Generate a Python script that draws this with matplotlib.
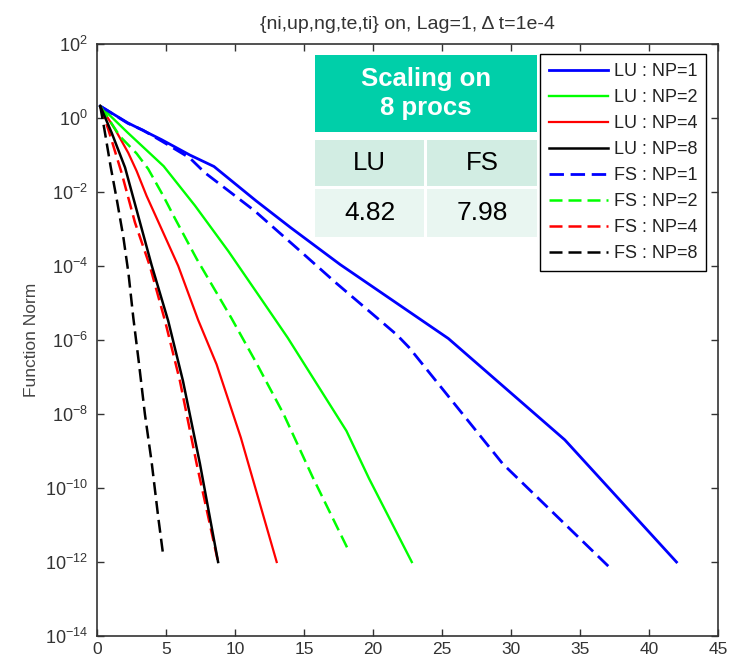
import math
import matplotlib
matplotlib.use("Agg")
import matplotlib.pyplot as plt
from matplotlib.patches import Rectangle
from matplotlib.ticker import FixedLocator, FuncFormatter, NullLocator

plt.rcParams['font.family'] = ['Liberation Sans', 'DejaVu Sans']
plt.rcParams['mathtext.default'] = 'regular'

# Data (x = time / iterations, y = function norm)
lu1_x = [0.2, 2.2, 4.65, 6.7, 8.45, 11.5, 14.0, 17.6, 25.45, 33.9, 42.0]
lu1_y = [2.1, 0.74, 0.26, 0.10, 0.049, 5.8e-3, 1.1e-3, 1.1e-4, 1.1e-6, 2.0e-9, 1.0e-12]

lu2_x = [0.2, 2.2, 4.8, 7.07, 9.5, 12.0, 13.8, 18.06, 19.7, 22.8]
lu2_y = [2.1, 0.40, 0.050, 4.3e-3, 2.5e-4, 1.1e-5, 1.15e-6, 3.5e-9, 1.8e-10, 1.0e-12]

lu4_x = [0.2, 1.27, 2.23, 2.84, 3.56, 4.65, 5.86, 7.3, 8.64, 10.4, 13.0]
lu4_y = [2.1, 0.50, 0.115, 0.037, 7.9e-3, 1.0e-3, 1.0e-4, 3.5e-6, 2.2e-7, 2.3e-9, 1.0e-12]

lu8_x = [0.2, 1.03, 2.0, 3.93, 5.13, 6.2, 7.43, 8.75]
lu8_y = [2.1, 0.40, 0.046, 1.05e-4, 3.3e-6, 7.9e-8, 4.6e-10, 1.0e-12]

fs1_x = [0.2, 2.2, 3.3, 5.0, 6.7, 7.8, 9.7, 11.4, 14.4, 17.3, 21.7, 22.6, 29.4, 37.3]
fs1_y = [2.1, 0.72, 0.47, 0.20, 0.083, 0.033, 9.5e-3, 3.1e-3, 3.2e-4, 3.5e-5, 1.4e-6, 6.3e-7, 4.5e-10, 6.3e-13]

fs2_x = [0.2, 1.63, 2.84, 3.68, 4.77, 5.6, 7.2, 9.7, 11.5, 13.5, 15.6, 18.2]
fs2_y = [2.1, 0.32, 0.11, 0.042, 7.9e-3, 2.0e-3, 1.55e-4, 4.0e-6, 2.5e-7, 1.0e-8, 2.0e-10, 2.1e-12]

fs4_x = [0.2, 0.78, 1.75, 2.72, 3.8, 4.9, 5.98, 7.19, 8.75]
fs4_y = [2.1, 0.50, 0.033, 1.5e-3, 1.0e-4, 3.3e-6, 7.9e-8, 4.6e-10, 1.0e-12]

fs8_x = [0.2, 0.5, 0.95, 1.4, 1.87, 2.25, 2.6, 3.0, 3.44, 3.93, 4.41, 4.77]
fs8_y = [2.1, 0.50, 0.050, 6.3e-3, 6.3e-4, 6.3e-5, 4.0e-6, 2.5e-7, 1.0e-8, 5.0e-10, 1.6e-11, 1.5e-12]

x_ticks = [0, 5, 10, 15, 20, 25, 30, 35, 40, 45]
y_exponents = [2, 0, -2, -4, -6, -8, -10, -12, -14]

title = "{ni,up,ng,te,ti} on, Lag=1, \u0394 t=1e-4"
table_header = "Scaling on\n8 procs"
table_cols = ["LU", "FS"]
table_vals = ["4.82", "7.98"]

fig = plt.figure(figsize=(7.29, 6.58), dpi=100)
ax = fig.add_axes([0.1337, 0.0334, 0.851, 0.8997])

dash = (0, (5.2, 2.4))
ax.semilogy(lu1_x, lu1_y, color='#0000ff', lw=2.0, label='LU : NP=1')
ax.semilogy(lu2_x, lu2_y, color='#00ff00', lw=1.7, label='LU : NP=2')
ax.semilogy(lu4_x, lu4_y, color='#ff0000', lw=1.6, label='LU : NP=4')
ax.semilogy(lu8_x, lu8_y, color='black', lw=1.8, label='LU : NP=8', zorder=5)
ax.semilogy(fs1_x, fs1_y, color='#0000ff', lw=2.0, ls=dash, label='FS : NP=1')
ax.semilogy(fs2_x, fs2_y, color='#00ff00', lw=1.8, ls=dash, label='FS : NP=2')
ax.semilogy(fs4_x, fs4_y, color='#ff0000', lw=1.8, ls=dash, label='FS : NP=4')
ax.semilogy(fs8_x, fs8_y, color='black', lw=1.8, ls=dash, label='FS : NP=8')

ax.set_xlim(0, 45)
ax.set_ylim(1e-14, 1e2)
ax.xaxis.set_major_locator(FixedLocator(x_ticks))
ax.yaxis.set_major_locator(FixedLocator([10.0 ** e for e in y_exponents]))
ax.yaxis.set_minor_locator(NullLocator())
ax.yaxis.set_major_formatter(FuncFormatter(lambda v, p: r'$10^{%d}$' % round(math.log10(v))))

txt_col = '#333333'
ax.tick_params(direction='in', length=5, width=1, top=True, right=True,
               labelsize=13, colors='#333333', labelcolor=txt_col, pad=7)
ax.tick_params(axis='x', labelsize=12.5, pad=4)
for s in ax.spines.values():
    s.set_color('#333333')
    s.set_linewidth(1.2)

ax.set_ylabel('Function Norm', fontsize=12.5, color='#444444', labelpad=4)
ax.set_title(title, fontsize=14, color=txt_col, pad=11)

leg = ax.legend(loc='upper right', bbox_to_anchor=(0.981, 0.983), borderaxespad=0,
                fontsize=13, fancybox=False, framealpha=1, edgecolor='black',
                handlelength=3.3, handletextpad=0.3, labelspacing=0.5, borderpad=0.5)
leg.get_frame().set_linewidth(1.0)
for t in leg.get_texts():
    t.set_color('#222222')

# Overlay table (axes fraction coordinates)
tr = ax.transAxes
ax.add_patch(Rectangle((0.3505, 0.8519), 0.3578, 0.1295, transform=tr,
                       facecolor='#00cfa9', edgecolor='none', zorder=6))
ax.text(0.5294, 0.9166, table_header, transform=tr, ha='center', va='center',
        color='white', fontsize=18.5, fontweight='bold', linespacing=1.3, zorder=7)
cells = [(0.3505, 0.1762), (0.5315, 0.1768)]
for (cx, cw), head, val in zip(cells, table_cols, table_vals):
    ax.add_patch(Rectangle((cx, 0.7606), cw, 0.0772, transform=tr,
                           facecolor='#d2ede3', edgecolor='none', zorder=6))
    ax.add_patch(Rectangle((cx, 0.6745), cw, 0.0801, transform=tr,
                           facecolor='#e9f6f1', edgecolor='none', zorder=6))
    ax.text(cx + cw / 2, 0.7992, head, transform=tr, ha='center', va='center',
            fontsize=18.5, color='black', zorder=7)
    ax.text(cx + cw / 2, 0.7146, val, transform=tr, ha='center', va='center',
            fontsize=19, color='black', zorder=7)

fig.savefig('out.png', dpi=100)
